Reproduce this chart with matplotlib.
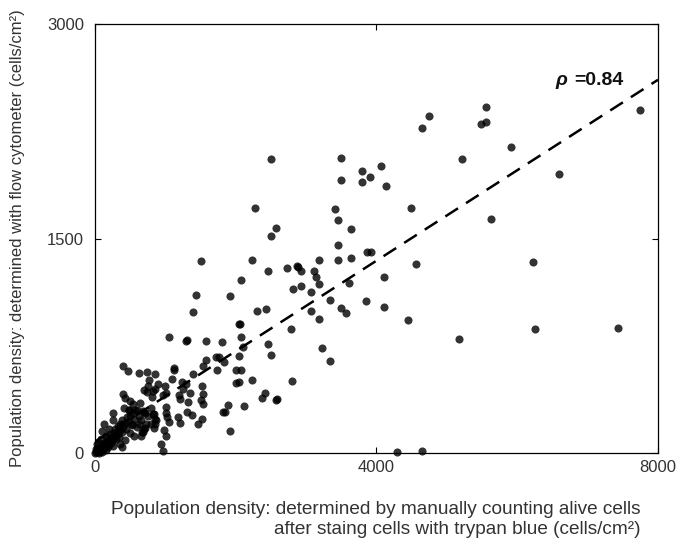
import matplotlib.pyplot as plt

plt.rcParams['font.family'] = ['Liberation Sans', 'DejaVu Sans']

# cell counts per well (cells/cm2): trypan blue manual count vs. flow cytometer
manual_counts = [
    7749, 5556, 5478, 5556, 4751, 4641, 5912, 6587, 5211, 2496,
    3490, 3495, 3793, 3798, 3914, 4070, 4138, 2271, 3411, 3453,
    3641, 4489, 5630, 2574, 2501, 3453, 3872, 3924, 1502, 2229,
    3453, 3641, 3186, 4562, 6226, 2459, 2731, 2878, 2870, 2925,
    3108, 3139, 3181, 2077, 4107, 3605, 2810, 2925, 3071, 1925,
    1434, 3333, 3851, 3495, 3568, 4102, 3076, 3186, 4442, 2302,
    2428, 1392, 2040, 2067, 2784, 6247, 7429, 5169, 1046, 1308,
    1300, 1580, 1805, 2077, 2459, 2103, 3223, 3338, 2501, 2040,
    1716, 1768, 1831, 1580, 1528, 1737, 1999, 2077, 1120, 1125,
    398, 471, 622, 738, 858, 769, 889, 1088, 1392, 1235,
    2009, 2040, 2229, 2804, 743, 827, 806, 1004, 1193, 1350,
    1538, 1214, 1318, 1512, 1538, 2417, 2376, 2574, 2580, 1889,
    2114, 1821, 1852, 1004, 1004, 1308, 1381, 1517, 1465, 1046,
    1203, 1925, 1004, 973, 4290, 4641,
    1300, 1525, 1250,
    760, 850, 700, 995, 960,
    398, 426, 497, 540, 640, 796, 682, 710,
    479, 573, 840, 855, 850, 710, 834, 668, 530, 620,
    1023, 1180, 976, 943,
    0, 20, 40, 60, 80, 30, 50, 70, 100, 120,
    90, 110, 140, 150, 160, 180, 130, 170, 200, 210,
    190, 230, 240, 250, 260, 280, 220, 270, 300, 310,
    290, 320, 340, 350, 330, 360, 380, 400, 390, 420,
    440, 450, 470, 480, 500, 520, 540, 560, 590, 620,
    600, 650, 680, 700, 720, 760, 800, 830, 860, 250,
    128, 99, 408, 251, 80, 60, 150, 200, 350, 420,
    380, 30, 10, 500, 560, 650, 700,
]
flow_counts = [
    2399, 2418, 2301, 2313, 2359, 2273, 2138, 1952, 2057, 2057,
    2064, 1912, 1975, 1894, 1931, 2008, 1870, 1714, 1709, 1630,
    1567, 1712, 1633, 1574, 1521, 1456, 1409, 1404, 1346, 1351,
    1351, 1365, 1351, 1325, 1335, 1274, 1295, 1300, 1305, 1276,
    1272, 1230, 1183, 1213, 1232, 1186, 1148, 1165, 1125, 1099,
    1102, 1067, 1064, 1015, 981, 1018, 992, 934, 932, 990,
    1008, 985, 899, 899, 864, 866, 873, 799, 810, 792,
    786, 783, 778, 813, 764, 741, 734, 640, 682, 675,
    671, 671, 634, 647, 606, 582, 582, 582, 596, 583,
    608, 573, 561, 566, 550, 512, 480, 517, 550, 498,
    489, 498, 510, 503, 426, 433, 391, 419, 408, 419,
    410, 380, 356, 368, 340, 419, 384, 373, 378, 333,
    326, 284, 286, 321, 279, 286, 263, 240, 200, 217,
    210, 154, 119, 15, 10, 12,
    480, 466, 445,
    470, 450, 440, 466, 405,
    410, 385, 364, 340, 350, 315, 295, 280,
    300, 300, 270, 235, 200, 174, 174, 150, 195, 200,
    252, 252, 160, 61,
    0, 5, 10, 0, 15, 25, 30, 20, 10, 30,
    40, 50, 40, 20, 60, 45, 70, 80, 60, 90,
    100, 70, 110, 50, 90, 120, 130, 140, 100, 150,
    170, 130, 110, 160, 190, 200, 150, 180, 230, 210,
    170, 250, 220, 300, 260, 200, 280, 240, 300, 260,
    180, 230, 150, 290, 200, 260, 200, 270, 230, 280,
    200, 154, 317, 231, 100, 70, 120, 170, 60, 90,
    40, 60, 30, 140, 120, 120, 170,
]

# least-squares trend line and Spearman coefficient
fit_x = [0, 8000]
fit_y = [80, 2610]
rho = 0.84

fig = plt.figure(figsize=(6.81, 5.43), dpi=100)
ax = fig.add_axes([0.1395, 0.1657, 0.8267, 0.7901])

ax.scatter(manual_counts, flow_counts, s=34, color='black', alpha=0.8,
           linewidths=0, clip_on=False, zorder=3)
ax.plot(fit_x, fit_y, color='black', lw=1.8, dashes=(6, 3.8), zorder=4)

ax.text(6540, 2608, '\u03c1', fontsize=14, fontweight='bold', fontstyle='italic',
        ha='left', va='center', color='#111111')
ax.text(6810, 2608, '=%.2f' % rho, fontsize=14, fontweight='bold',
        ha='left', va='center', color='#111111')

ax.set_xlim(0, 8000)
ax.set_ylim(0, 3000)
ax.set_xticks([0, 4000, 8000])
ax.set_yticks([0, 1500, 3000])
ax.tick_params(axis='both', direction='in', top=True, right=True, length=4.5,
               width=0.8, labelsize=12, labelcolor='#333333')
ax.tick_params(axis='y', pad=8)
ax.tick_params(axis='x', pad=5)
for sp in ax.spines.values():
    sp.set_linewidth(0.9)

fig.text(0.025, 0.561, 'Population density: determined with flow cytometer (cells/cm\u00b2)',
         rotation=90, ha='center', va='center', fontsize=12, color='#333333')
fig.text(0.94, 0.043,
         'Population density: determined by manually counting alive cells\n'
         'after staing cells with trypan blue (cells/cm\u00b2)',
         ha='right', va='center', multialignment='right', linespacing=1.2,
         fontsize=13.7, color='#333333')

fig.savefig('out.png', dpi=100)
